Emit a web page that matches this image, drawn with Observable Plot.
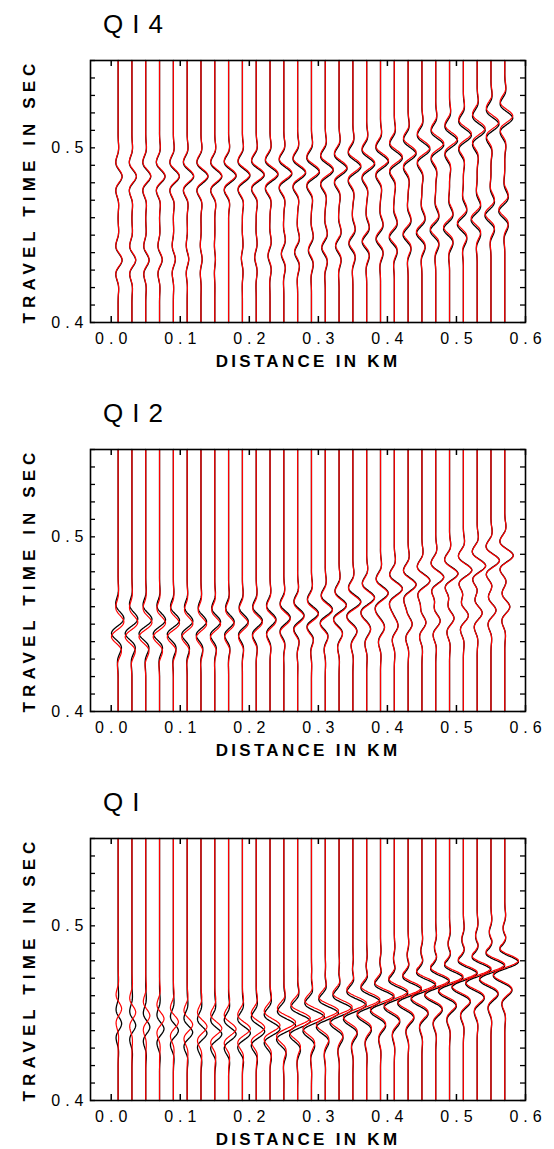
<!DOCTYPE html>
<html><head><meta charset="utf-8">
<script src="https://cdn.jsdelivr.net/npm/d3@7"></script>
<script src="https://cdn.jsdelivr.net/npm/@observablehq/plot@0.6"></script>
<style>
body{margin:0;background:#fff;font-family:"Liberation Sans",Arial,sans-serif;}
#page{position:relative;width:554px;height:1149px;overflow:hidden;background:#fff;}
.panel{position:absolute;left:0;width:554px;height:390px;}
.panel svg{position:absolute;left:0;top:0;}
.ptitle{position:absolute;left:103px;top:11px;font-size:26px;line-height:1;letter-spacing:9px;color:#000;white-space:nowrap;}
.ylab{position:absolute;left:30px;top:191px;transform:translate(-50%,-50%) rotate(-90deg);font-weight:bold;font-size:17px;letter-spacing:5.1px;white-space:nowrap;color:#000;}
.xlab{position:absolute;left:308px;top:362px;transform:translate(-50%,-50%);font-weight:bold;font-size:17px;letter-spacing:3.3px;white-space:nowrap;color:#000;}
.panel svg text{letter-spacing:5px;}
</style></head>
<body><div id="page"></div>
<script>
// ---- data ----
const panelTitles = ["QI4", "QI2", "QI"];
const xAxisTitle = "DISTANCE IN KM";
const yAxisTitle = "TRAVEL TIME IN SEC";
const xTicks = [0, 0.1, 0.2, 0.3, 0.4, 0.5, 0.6];
const yTicks = [0.40,0.41,0.42,0.43,0.44,0.45,0.46,0.47,0.48,0.49,0.50,0.51,0.52,0.53,0.54,0.55];
const yTickLabels = [0.4, 0.5];
const traceX = [0.01,0.03,0.05,0.07,0.09,0.11,0.13,0.15,0.17,0.19,0.21,0.23,0.25,0.27,0.29,0.31,0.33,0.35,0.37,0.39,0.41,0.43,0.45,0.47,0.49,0.51,0.53,0.55,0.57];
// wavelet shape, samples every 2 ms from -26 ms to +26 ms
const waveletStep = 0.002;
const wavelet = [0,0,0.02,0.06,0.12,0.13,0.04,-0.2,-0.46,-0.58,-0.38,0.15,0.72,1,0.72,0.15,-0.38,-0.58,-0.46,-0.2,0.04,0.13,0.12,0.06,0.02,0,0];

// QI4 panel: event times (s) and amplitudes (km) per trace
const q4TimeA = [0.4835,0.4835,0.4835,0.4835,0.4835,0.4835,0.4835,0.4835,0.4838,0.484,0.4843,0.4846,0.485,0.4855,0.486,0.487,0.488,0.489,0.4905,0.492,0.494,0.4965,0.499,0.5015,0.504,0.507,0.510,0.5135,0.517];
const q4AmpA = [0.0058,0.0065,0.0073,0.008,0.0087,0.0094,0.0102,0.0102,0.0109,0.0109,0.0116,0.0116,0.0116,0.0116,0.0116,0.0116,0.0116,0.0116,0.0116,0.0116,0.0116,0.0116,0.0116,0.0116,0.0116,0.0116,0.0116,0.0116,0.0116];
const q4TimeB = [0.4356,0.4356,0.4356,0.4358,0.436,0.436,0.436,0.436,0.436,0.4365,0.437,0.438,0.439,0.440,0.441,0.4425,0.4435,0.445,0.446,0.4475,0.4485,0.450,0.451,0.4525,0.4535,0.456,0.4585,0.461,0.4635];
const q4AmpB = [0.0058,0.0055,0.0049,0.0039,0.0029,0.0023,0.0017,0.0009,0,-0.0015,-0.0022,-0.0029,-0.0036,-0.0044,-0.0044,-0.0051,-0.0051,-0.0058,-0.0065,-0.0065,-0.0073,-0.0073,-0.008,-0.008,-0.0087,-0.0087,-0.0087,-0.0087,-0.0087];
const q4RedShift = [0.0004,0.0004,0.0005,0.0005,0.0005,0.0006,0.0006,0.0006,0.0007,0.0007,0.0007,0.0008,0.0008,0.0008,0.0009,0.0009,0.0009,0.001,0.001,0.001,0.0011,0.0011,0.0011,0.0012,0.0012,0.0012,0.0013,0.0013,0.0013];

// QI2 panel
const q2TimeA = [0.4539,0.4535,0.453,0.4525,0.452,0.4515,0.451,0.451,0.4512,0.4515,0.452,0.4528,0.4538,0.455,0.4562,0.4585,0.461,0.463,0.4654,0.468,0.4705,0.4728,0.475,0.477,0.479,0.481,0.4835,0.4865,0.4894];
const q2AmpA = [0.0044,0.0044,0.0051,0.0051,0.0058,0.0058,0.0065,0.0073,0.0073,0.008,0.0087,0.0087,0.0094,0.0094,0.0102,0.0102,0.0102,0.0109,0.0109,0.0109,0.0116,0.0116,0.0116,0.0116,0.0123,0.0123,0.0123,0.0123,0.0123];
const q2TimeB = [0.4445,0.4445,0.4445,0.4445,0.4445,0.4445,0.4448,0.445,0.4452,0.4455,0.446,0.4465,0.441,0.442,0.443,0.444,0.445,0.446,0.447,0.448,0.449,0.450,0.451,0.452,0.4535,0.455,0.4565,0.458,0.46];
const q2AmpB = [-0.0073,-0.0073,-0.0068,-0.0062,-0.0055,-0.0046,-0.0036,-0.0027,-0.002,-0.0013,-0.0006,0,0.0007,0.0015,0.0022,0.0029,0.0036,0.0044,0.0044,0.0051,0.0051,0.0058,0.0058,0.0065,0.0065,0.0073,0.0073,0.0073,0.0073];
const q2RedShift = [-0.002,-0.002,-0.0019,-0.0018,-0.0017,-0.0016,-0.0015,-0.0014,-0.0013,-0.0012,-0.0011,-0.001,-0.0009,-0.0008,-0.0008,-0.0007,-0.0006,-0.0006,-0.0005,-0.0005,-0.0004,-0.0004,-0.0003,-0.0003,-0.0003,-0.0002,-0.0002,-0.0002,-0.0002];

// QI panel
const q1TimeA = [0.444,0.443,0.442,0.441,0.440,0.439,0.4385,0.438,0.438,0.4385,0.4395,0.441,0.443,0.4455,0.4478,0.4501,0.4524,0.4547,0.4569,0.4593,0.4615,0.4637,0.4661,0.4683,0.4705,0.4729,0.4751,0.4773,0.4796];
const q1AmpA = [0.0051,0.0055,0.006,0.0065,0.0073,0.008,0.0087,0.0102,0.0109,0.0116,0.0123,0.0145,0.0174,0.0189,0.0196,0.0203,0.0203,0.021,0.021,0.0218,0.0218,0.0218,0.0225,0.0225,0.0225,0.0232,0.0232,0.0232,0.0232];
const q1TimeB = [0.4275,0.4265,0.4255,0.4245,0.4235,0.4225,0.422,0.4215,0.4215,0.422,0.423,0.4245,0.4265,0.429,0.4313,0.4336,0.4359,0.4382,0.4404,0.4428,0.445,0.4472,0.4496,0.4518,0.454,0.4564,0.4586,0.4608,0.4631];
const q1AmpB = [0,0,0,0,0,0,0,0,0,0,0,0,0.001,0.0015,0.002,0.0025,0.003,0.0035,0.004,0.0045,0.005,0.0055,0.006,0.0065,0.0068,0.007,0.0072,0.0073,0.0073];
const q1TimeC = [0.4536,0.4526,0.4516,0.4506,0.4496,0.4486,0.4481,0.4476,0.4476,0.4481,0.4491,0.4506,0.4526,0.4551,0.4574,0.4597,0.462,0.4643,0.4665,0.4689,0.4711,0.4733,0.4757,0.4779,0.4801,0.4825,0.4847,0.4869,0.4892];
const q1AmpC = [0,0,0,0,0,0,0,0,0,0,0,0,0.001,0.0015,0.0022,0.003,0.0036,0.0044,0.005,0.0055,0.006,0.0065,0.007,0.0075,0.008,0.0083,0.0085,0.0087,0.0087];
const q1RedShift = [0.0085,0.0075,0.0066,0.0058,0.005,0.0044,0.0038,0.0033,0.0029,0.0026,0.0023,0.0021,0.0019,0.0017,0.0016,0.0015,0.0014,0.0013,0.0012,0.0011,0.0011,0.001,0.001,0.0009,0.0009,0.0008,0.0008,0.0008,0.0007];

// ---- build ----
const panels = [
  {title: panelTitles[0], events: [[q4TimeA, q4AmpA], [q4TimeB, q4AmpB]], red: q4RedShift},
  {title: panelTitles[1], events: [[q2TimeA, q2AmpA], [q2TimeB, q2AmpB]], red: q2RedShift},
  {title: panelTitles[2], events: [[q1TimeA, q1AmpA], [q1TimeB, q1AmpB], [q1TimeC, q1AmpC]], red: q1RedShift}
];
const panelTops = [0, 389, 778];

function wav(dt) {
  const n = wavelet.length;
  const u = dt / waveletStep + (n - 1) / 2;
  if (u <= 0 || u >= n - 1) return 0;
  const i = Math.floor(u), f = u - i;
  const p0 = wavelet[Math.max(i - 1, 0)], p1 = wavelet[i], p2 = wavelet[i + 1], p3 = wavelet[Math.min(i + 2, n - 1)];
  return 0.5 * (2 * p1 + (-p0 + p2) * f + (2 * p0 - 5 * p1 + 4 * p2 - p3) * f * f + (-p0 + 3 * p1 - 3 * p2 + p3) * f * f * f);
}
const tGrid = d3.range(0, 301).map(i => 0.4 + i * 0.0005);

function traces(p, useShift) {
  const out = [];
  traceX.forEach((x0, k) => {
    const s = useShift ? p.red[k] : 0;
    for (const t of tGrid) {
      let v = 0;
      for (const [times, amps] of p.events) v += amps[k] * wav(t - times[k] - s);
      out.push({trace: k, x: x0 + v, t});
    }
  });
  return out;
}

const page = document.getElementById("page");
panels.forEach((p, idx) => {
  const div = document.createElement("div");
  div.className = "panel";
  div.style.top = panelTops[idx] + "px";
  page.appendChild(div);
  const plot = Plot.plot({
    width: 554, height: 390,
    marginTop: 60, marginBottom: 68, marginLeft: 90, marginRight: 29,
    style: {fontFamily: '"Liberation Sans", Arial, sans-serif', fontSize: "16px", color: "#000", background: "transparent"},
    x: {domain: [-0.03, 0.6]},
    y: {domain: [0.4, 0.55]},
    marks: [
      Plot.line(traces(p, false), {x: "x", y: "t", z: "trace", stroke: "#000", strokeWidth: 1.3}),
      Plot.line(traces(p, true), {x: "x", y: "t", z: "trace", stroke: "#ff0000", strokeWidth: 1.2}),
      Plot.tickY(yTicks, {y: d => d, insetRight: 430, stroke: "#000", strokeWidth: 1.3}),
      Plot.tickY(yTicks, {y: d => d, insetLeft: 430, stroke: "#000", strokeWidth: 1.3}),
      Plot.tickX(xTicks, {x: d => d, insetTop: 256, stroke: "#000", strokeWidth: 1.5}),
      Plot.tickX(xTicks, {x: d => d, insetBottom: 256, stroke: "#000", strokeWidth: 1.5}),
      Plot.frame({stroke: "#000", strokeWidth: 1.6}),
      Plot.axisY({ticks: yTickLabels, tickSize: 0, tickPadding: 2, tickFormat: d3.format(".1f"), label: null, fontSize: 16}),
      Plot.axisX({ticks: xTicks, tickSize: 0, tickPadding: 10, dx: 2.5, tickFormat: d3.format(".1f"), label: null, fontSize: 16})
    ]
  });
  div.appendChild(plot);
  const tt = document.createElement("div"); tt.className = "ptitle"; tt.textContent = p.title; div.appendChild(tt);
  const yl = document.createElement("div"); yl.className = "ylab"; yl.textContent = yAxisTitle; div.appendChild(yl);
  const xl = document.createElement("div"); xl.className = "xlab"; xl.textContent = xAxisTitle; div.appendChild(xl);
});
</script>
</body></html>
